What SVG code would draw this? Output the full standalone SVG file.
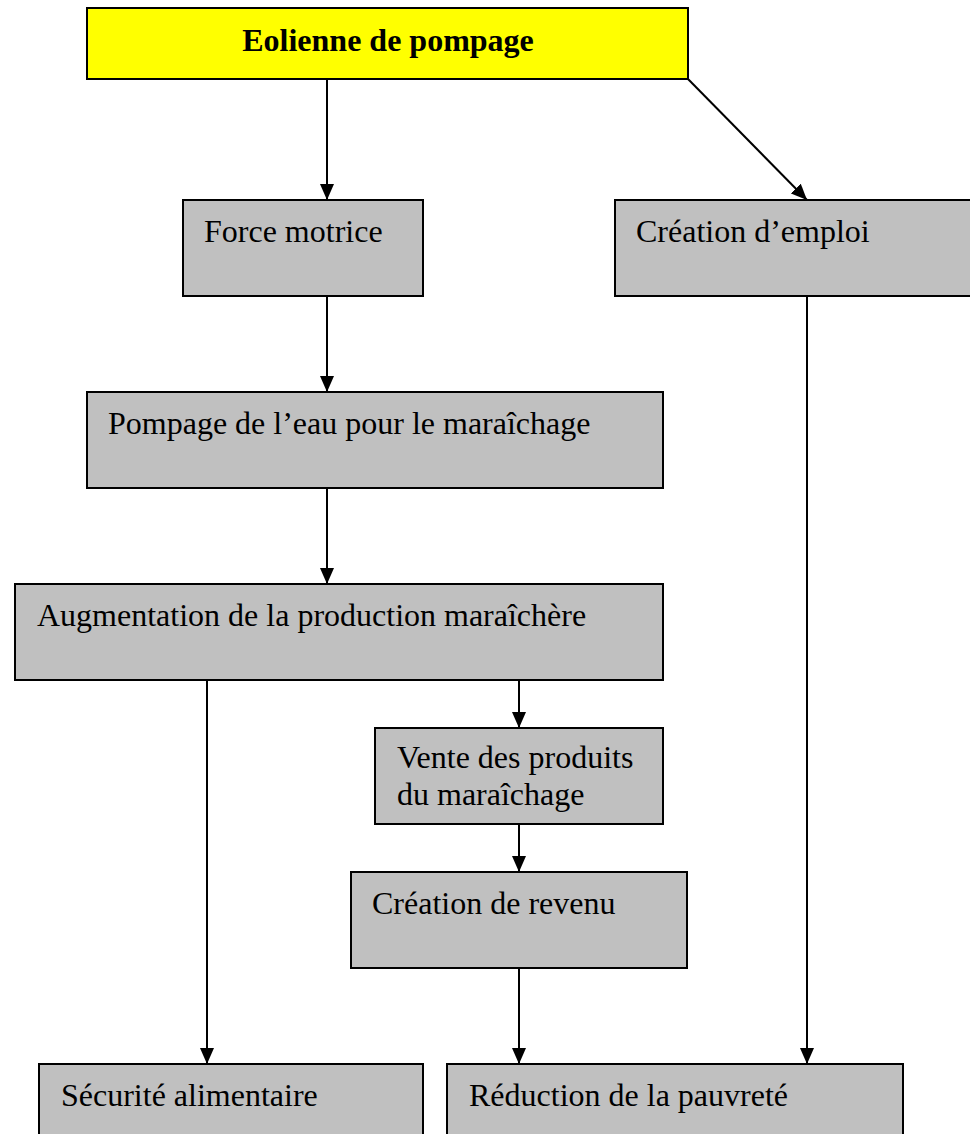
<svg xmlns="http://www.w3.org/2000/svg" width="970" height="1134" viewBox="0 0 970 1134">
  <style>
    .box { fill: #c0c0c0; stroke: #000; stroke-width: 2; }
    .top { fill: #ffff00; stroke: #000; stroke-width: 2; }
    .lbl { font-family: "Liberation Serif", "Times New Roman", serif; font-size: 32px; fill: #000; }
    .bold { font-weight: bold; }
    .edge { stroke: #000; stroke-width: 2; fill: none; marker-end: url(#arrow); }
  </style>
  <defs>
    <marker id="arrow" viewBox="0 0 16 14" refX="16" refY="7" markerWidth="16" markerHeight="14" markerUnits="userSpaceOnUse" orient="auto">
      <path d="M0,0 L16,7 L0,14 Z" fill="#000"/>
    </marker>
  </defs>
  <rect width="970" height="1134" fill="#fff"/>

  <g id="connectors">
    <line class="edge" x1="327" y1="79" x2="327" y2="200"/>
    <line class="edge" x1="688" y1="79" x2="807" y2="200"/>
    <line class="edge" x1="327" y1="296" x2="327" y2="392"/>
    <line class="edge" x1="327" y1="488" x2="327" y2="584"/>
    <line class="edge" x1="207" y1="680" x2="207" y2="1064"/>
    <line class="edge" x1="519" y1="680" x2="519" y2="728"/>
    <line class="edge" x1="519" y1="824" x2="519" y2="872"/>
    <line class="edge" x1="519" y1="968" x2="519" y2="1064"/>
    <line class="edge" x1="807" y1="296" x2="807" y2="1064"/>
  </g>

  <g id="eolienne">
    <rect class="top" x="87" y="8" width="601" height="71"/>
    <text class="lbl bold" x="388" y="51" text-anchor="middle">Eolienne de pompage</text>
  </g>
  <g id="force-motrice">
    <rect class="box" x="183" y="200" width="240" height="96"/>
    <text class="lbl" x="204" y="242">Force motrice</text>
  </g>
  <g id="creation-emploi">
    <rect class="box" x="615" y="200" width="362" height="96"/>
    <text class="lbl" x="636" y="242">Création d’emploi</text>
  </g>
  <g id="pompage-eau">
    <rect class="box" x="87" y="392" width="576" height="96"/>
    <text class="lbl" x="108" y="434">Pompage de l’eau pour le maraîchage</text>
  </g>
  <g id="augmentation">
    <rect class="box" x="15" y="584" width="648" height="96"/>
    <text class="lbl" x="37" y="626">Augmentation de la production maraîchère</text>
  </g>
  <g id="vente-produits">
    <rect class="box" x="375" y="728" width="288" height="96"/>
    <text class="lbl" x="397" y="768">Vente des produits</text>
    <text class="lbl" x="397" y="805">du maraîchage</text>
  </g>
  <g id="creation-revenu">
    <rect class="box" x="351" y="872" width="336" height="96"/>
    <text class="lbl" x="372" y="914">Création de revenu</text>
  </g>
  <g id="securite-alimentaire">
    <rect class="box" x="39" y="1064" width="384" height="96"/>
    <text class="lbl" x="61" y="1106">Sécurité alimentaire</text>
  </g>
  <g id="reduction-pauvrete">
    <rect class="box" x="447" y="1064" width="456" height="96"/>
    <text class="lbl" x="469" y="1106">Réduction de la pauvreté</text>
  </g>
</svg>
